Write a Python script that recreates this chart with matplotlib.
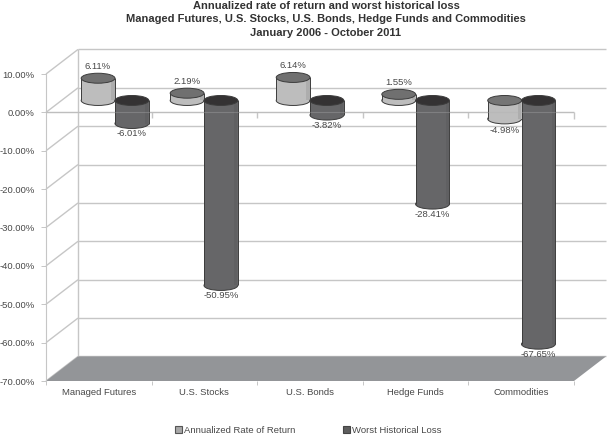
import matplotlib
matplotlib.use('agg')
import matplotlib.pyplot as plt
from matplotlib.patches import Ellipse, Polygon, Patch

plt.rcParams['font.family'] = ['Liberation Sans', 'DejaVu Sans']

categories = ['Managed Futures', 'U.S. Stocks', 'U.S. Bonds', 'Hedge Funds', 'Commodities']
series_names = ['Annualized Rate of Return', 'Worst Historical Loss']
returns = [6.11, 2.19, 6.14, 1.55, -4.98]
losses = [-6.01, -50.95, -3.82, -28.41, -67.65]
# the bars in the picture are not quite to scale, so lengths are read off separately
returns_drawn = [5.8, 1.9, 6.0, 1.6, -4.8]
losses_drawn = [-6.0, -48.2, -3.8, -27.0, -63.5]
# first group sits to the right of its slot in the original
group_pos = [0.653, 1.496, 2.5, 3.5, 4.503]
y_ticks = [10, 0, -10, -20, -30, -40, -50, -60, -70]

W, H = 607, 436
L, R, T, B = 46, 574, 74, 381
dx, dy = 0.303, 6.4      # depth of the back wall, data units
mid = 3.1                # bars stand half way into the depth
bar_w = 0.32
cap_h = 2.6

grid = '#c6c6c6'
text_c = '#484848'
edge = '#3c3c3c'
fs = 6.8

fig = plt.figure(figsize=(W / 100, H / 100), dpi=100)
ax = fig.add_axes([L / W, 1 - B / H, (R - L) / W, (B - T) / H])
ax.set_xlim(0, 5)
ax.set_ylim(-70, 10)
for s in ax.spines.values():
    s.set_visible(False)
ax.spines['left'].set_visible(True)
ax.spines['left'].set_color(grid)


def frame_line(xs, ys, **kw):
    ax.plot(xs, ys, color=grid, lw=1, clip_on=False, solid_capstyle='butt', **kw)


# back wall and side wall
frame_line([dx, dx], [-70 + dy, 10 + dy], zorder=1)
for t in y_ticks:
    frame_line([dx, 5 + dx], [t + dy, t + dy], zorder=1)
    frame_line([0, dx], [t, t + dy], zorder=1)

ax.add_patch(Polygon([(0, -70), (5, -70), (5 + dx, -70 + dy), (dx, -70 + dy)],
                     closed=True, fc='#939598', ec='none', clip_on=False, zorder=2))
frame_line([0, 5], [0, 0], zorder=2)
frame_line([5, 5], [0, -1.6], zorder=2)
for i in range(1, 5):
    frame_line([i, i], [0, -1.4], zorder=2)


def cylinder(x, y_top, y_bot, body, cap, z):
    ax.add_patch(Ellipse((x, y_bot), bar_w, cap_h, fc=body, ec=edge, lw=0.7, clip_on=False, zorder=z))
    ax.bar(x, y_top - y_bot, bottom=y_bot, width=bar_w, color=body, lw=0, zorder=z)
    ax.vlines([x - bar_w / 2, x + bar_w / 2], y_bot, y_top, color=edge, lw=0.7, zorder=z)
    # darker band on the right of the body for the round look
    ax.bar(x + bar_w * 0.44, y_top - y_bot, bottom=y_bot, width=bar_w * 0.1, color=edge, alpha=0.12, lw=0, zorder=z)
    ax.add_patch(Ellipse((x, y_top), bar_w, cap_h, fc=cap, ec=edge, lw=0.7, clip_on=False, zorder=z))


for i, g in enumerate(group_pos):
    x1, x2 = g - bar_w / 2, g + bar_w / 2
    r = returns_drawn[i]
    if r >= 0:
        cylinder(x1, mid + r, mid, '#bdbdbd', '#707070', 3)
        ax.text(x1, mid + r + 3.1, f'{returns[i]:.2f}%', ha='center', va='center',
                fontsize=fs, color=text_c, zorder=6)
    else:
        cylinder(x1, mid, mid + r, '#bdbdbd', '#757575', 3)
        ax.text(x1, mid + r - 2.9, f'{returns[i]:.2f}%', ha='center', va='center',
                fontsize=fs, color=text_c, zorder=6)
    cylinder(x2, mid, mid + losses_drawn[i], '#666668', '#343233', 4)
    ax.text(x2, mid + losses_drawn[i] - 2.6, f'{losses[i]:.2f}%', ha='center', va='center',
            fontsize=fs, color=text_c, zorder=6)

# the front zero line shows faintly through the bars
ax.plot([0, 5], [0, 0], color='#b0b0b0', lw=0.8, alpha=0.35, zorder=5)

ax.set_yticks(y_ticks)
ax.set_yticklabels([f'{t:.2f}%' for t in y_ticks], fontsize=fs, color=text_c)
ax.tick_params(axis='y', length=3.6, width=0.7, color=grid, pad=4.5)
ax.set_xticks(range(6))
ax.set_xticklabels([])
ax.set_xticks([i + 0.5 for i in range(5)], minor=True)
ax.set_xticklabels(categories, minor=True, fontsize=fs, color=text_c)
ax.tick_params(axis='x', which='major', length=3, width=0.7, color=grid)
ax.tick_params(axis='x', which='minor', length=0, pad=5)

title_x = 326 / W
fig.text(title_x, 1 - 6 / H, 'Annualized rate of return and worst historical loss', ha='center', va='center',
         fontsize=8.05, fontweight='bold', color='#333333')
fig.text(title_x, 1 - 19 / H, 'Managed Futures, U.S. Stocks, U.S. Bonds, Hedge Funds and Commodities',
         ha='center', va='center', fontsize=8.05, fontweight='bold', color='#333333')
fig.text(title_x, 1 - 33 / H, 'January 2006 - October 2011', ha='center', va='center',
         fontsize=8.05, fontweight='bold', color='#333333')

handles = [Patch(fc='#a8a8a8', ec='#555555', lw=0.8), Patch(fc='#5e5e5e', ec='#444444', lw=0.8)]
fig.legend(handles, series_names, ncol=2, frameon=False, fontsize=fs, labelcolor=text_c,
           loc='center', bbox_to_anchor=(308 / W, 1 - 430 / H),
           handlelength=0.75, handleheight=0.75, handletextpad=0.25, columnspacing=5,
           borderpad=0, borderaxespad=0)

fig.savefig('out.png', dpi=100)
